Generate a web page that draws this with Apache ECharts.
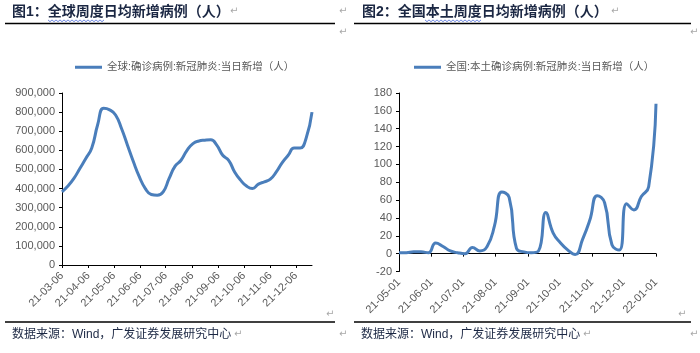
<!DOCTYPE html>
<html>
<head>
<meta charset="utf-8">
<title>周度日均新增病例</title>
<script src="https://cdn.jsdelivr.net/npm/echarts@6/dist/echarts.min.js"></script>
<style>
    html, body { margin: 0; padding: 0; background: #fff; }
    #main { width: 700px; height: 353px; }
</style>
</head>
<body>
<div id="main"></div>
<script type="text/javascript">
    // weekly averages, first week / last week
    var globalName = '全球:确诊病例:新冠肺炎:当日新增（人）'
    var globalStart = '2021-03-06'
    var globalEnd = '2021-12-25'
    var globalValues = [383000, 413000, 453000, 505000, 557000, 612000, 735000, 820000, 812000, 785000,
        714000, 627000, 540000, 461000, 400000, 369000, 365000, 383000, 453000, 517000,
        548000, 600000, 635000, 649000, 653000, 655000, 627000, 574000, 548000, 487000,
        444000, 413000, 400000, 423000, 435000, 449000, 487000, 536000, 574000, 612000,
        612000, 662000, 800000]
    var globalTicks = ['21-03-06', '21-04-06', '21-05-06', '21-06-06', '21-07-06',
        '21-08-06', '21-09-06', '21-10-06', '21-11-06', '21-12-06']

    var chinaName = '全国:本土确诊病例:新冠肺炎:当日新增（人）'
    var chinaStart = '2021-05-01'
    var chinaEnd = '2022-01-01'
    var chinaValues = [1, 1, 2, 2, 1, 12, 8, 3, 1, 0,
        7, 3, 8, 31, 69, 63, 6, 2, 1, 3,
        46, 23, 12, 4, -1, 16, 38, 65, 57, 10,
        4, 56, 49, 64, 75, 168]
    var chinaTicks = ['21-05-01', '21-06-01', '21-07-01', '21-08-01', '21-09-01',
        '21-10-01', '21-11-01', '21-12-01', '22-01-01']

    var blue = '#4a7ebb'
    var labelColor = '#595959'
    var navy = '#1b2743'
    var fontLatin = '"Liberation Sans", Arial, "Noto Sans CJK SC", sans-serif'
    var fontCjk = '"Liberation Sans", "Noto Sans CJK SC", sans-serif'

    function toTime(s) {
        var p = s.split('-')
        var y = +p[0]
        if (y < 100) y += 2000
        return new Date(y, +p[1] - 1, +p[2]).getTime()
    }

    function pad(n) {
        return (n < 10 ? '0' : '') + n
    }

    function fmtDate(v) {
        var d = new Date(v)
        return pad(d.getFullYear() % 100) + '-' + pad(d.getMonth() + 1) + '-' + pad(d.getDate())
    }

    function weekly(start, values) {
        var t0 = toTime(start)
        return values.map(function (v, i) {
            var d = new Date(t0)
            d.setDate(d.getDate() + 7 * i)
            return [d.getTime(), v]
        })
    }

    function thousands(v) {
        return String(v).replace(/\B(?=(\d{3})+(?!\d))/g, ',')
    }

    var axisLine = { show: true, onZero: true, lineStyle: { color: '#000', width: 1 } }
    var tick = { show: true, inside: false, length: 3, lineStyle: { color: '#000' } }
    var yLabel = { color: labelColor, fontSize: 11, fontFamily: fontLatin, margin: 7 }
    var xLabel = { color: labelColor, fontSize: 11, fontFamily: fontLatin, rotate: 45, margin: 9, formatter: fmtDate, hideOverlap: false }

    var globalTickTimes = globalTicks.map(toTime)
    var chinaTickTimes = chinaTicks.map(toTime)

    // Word style wavy underline
    function squiggle(x0, x1, y) {
        var pts = []
        for (var x = x0, k = 0; x <= x1; x += 2, k++) {
            pts.push([x, y + (k % 2 ? 1.2 : -0.6)])
        }
        return pts
    }

    function retMark(x, y) {
        return {
            type: 'text', left: x, top: y,
            style: { text: '↵', fill: '#a8a8a8', font: '10px "DejaVu Sans"' }
        }
    }

    var chart = echarts.init(document.getElementById('main'))

    var option = {
        animation: false,
        grid: [
            { left: 62, right: 388, top: 93, bottom: 88 },
            { left: 399, right: 44, top: 93, bottom: 81.5 }
        ],
        legend: [
            {
                data: [globalName], left: 70, top: 57, icon: 'rect', itemWidth: 27, itemHeight: 3,
                textStyle: { color: labelColor, fontSize: 10.5, fontFamily: fontCjk }
            },
            {
                data: [chinaName], left: 409, top: 57, icon: 'rect', itemWidth: 27, itemHeight: 3,
                textStyle: { color: labelColor, fontSize: 10.5, fontFamily: fontCjk }
            }
        ],
        xAxis: [
            {
                type: 'value', gridIndex: 0, position: 'bottom',
                min: toTime(globalStart), max: toTime(globalEnd),
                axisLine: axisLine,
                axisTick: Object.assign({ customValues: globalTickTimes }, tick),
                axisLabel: Object.assign({ customValues: globalTickTimes }, xLabel),
                splitLine: { show: false }
            },
            {
                // zero line with ticks
                type: 'value', gridIndex: 1, position: 'bottom',
                min: toTime(chinaStart), max: toTime(chinaEnd),
                axisLine: axisLine,
                axisTick: Object.assign({ customValues: chinaTickTimes }, tick),
                axisLabel: { show: false },
                splitLine: { show: false }
            },
            {
                // labels sit at the bottom of the plot
                type: 'value', gridIndex: 1, position: 'bottom',
                min: toTime(chinaStart), max: toTime(chinaEnd),
                axisLine: { show: false, onZero: false },
                axisTick: { show: false },
                axisLabel: Object.assign({ customValues: chinaTickTimes }, xLabel),
                splitLine: { show: false }
            }
        ],
        yAxis: [
            {
                type: 'value', gridIndex: 0, min: 0, max: 900000, interval: 100000,
                axisLine: { show: true, lineStyle: { color: '#000' } },
                axisTick: tick,
                axisLabel: Object.assign({ formatter: thousands }, yLabel),
                splitLine: { show: false }
            },
            {
                type: 'value', gridIndex: 1, min: -20, max: 180, interval: 20,
                axisLine: { show: true, lineStyle: { color: '#000' } },
                axisTick: tick,
                axisLabel: yLabel,
                splitLine: { show: false }
            }
        ],
        series: [
            {
                name: globalName, type: 'line', xAxisIndex: 0, yAxisIndex: 0,
                data: weekly(globalStart, globalValues),
                smooth: true, showSymbol: false,
                lineStyle: { color: blue, width: 3 }, itemStyle: { color: blue }
            },
            {
                name: chinaName, type: 'line', xAxisIndex: 1, yAxisIndex: 1,
                data: weekly(chinaStart, chinaValues),
                smooth: true, showSymbol: false,
                lineStyle: { color: blue, width: 3 }, itemStyle: { color: blue }
            }
        ],
        graphic: [
            {
                type: 'text', left: 12, top: 5,
                style: { text: '图1：全球周度日均新增病例（人）', fill: navy, font: 'bold 14px ' + fontCjk }
            },
            {
                type: 'text', left: 362, top: 5,
                style: { text: '图2：全国本土周度日均新增病例（人）', fill: navy, font: 'bold 14px ' + fontCjk }
            },
            { type: 'line', shape: { x1: 5, y1: 23.5, x2: 335, y2: 23.5 }, style: { stroke: '#000', lineWidth: 1.3 } },
            { type: 'line', shape: { x1: 354, y1: 23.5, x2: 691, y2: 23.5 }, style: { stroke: '#000', lineWidth: 1.3 } },
            { type: 'line', shape: { x1: 5, y1: 322, x2: 335, y2: 322 }, style: { stroke: '#000', lineWidth: 1.3 } },
            { type: 'line', shape: { x1: 354, y1: 322, x2: 691, y2: 322 }, style: { stroke: '#000', lineWidth: 1.3 } },
            { type: 'polyline', shape: { points: squiggle(48, 104, 20.5) }, style: { stroke: '#4a6ad8', lineWidth: 0.8, fill: null } },
            { type: 'polyline', shape: { points: squiggle(425, 481, 20.5) }, style: { stroke: '#4a6ad8', lineWidth: 0.8, fill: null } },
            {
                type: 'text', left: 12, top: 329,
                style: { text: '数据来源：Wind，广发证券发展研究中心', fill: navy, font: '12px ' + fontCjk }
            },
            {
                type: 'text', left: 361, top: 329,
                style: { text: '数据来源：Wind，广发证券发展研究中心', fill: navy, font: '12px ' + fontCjk }
            },
            retMark(230, 6), retMark(339, 6), retMark(339, 27),
            retMark(611, 6), retMark(690, 27),
            retMark(326, 309), retMark(339, 329), retMark(234, 329),
            retMark(678, 309), retMark(690, 329), retMark(583, 329)
        ]
    }

    chart.setOption(option)
</script>
</body>
</html>
